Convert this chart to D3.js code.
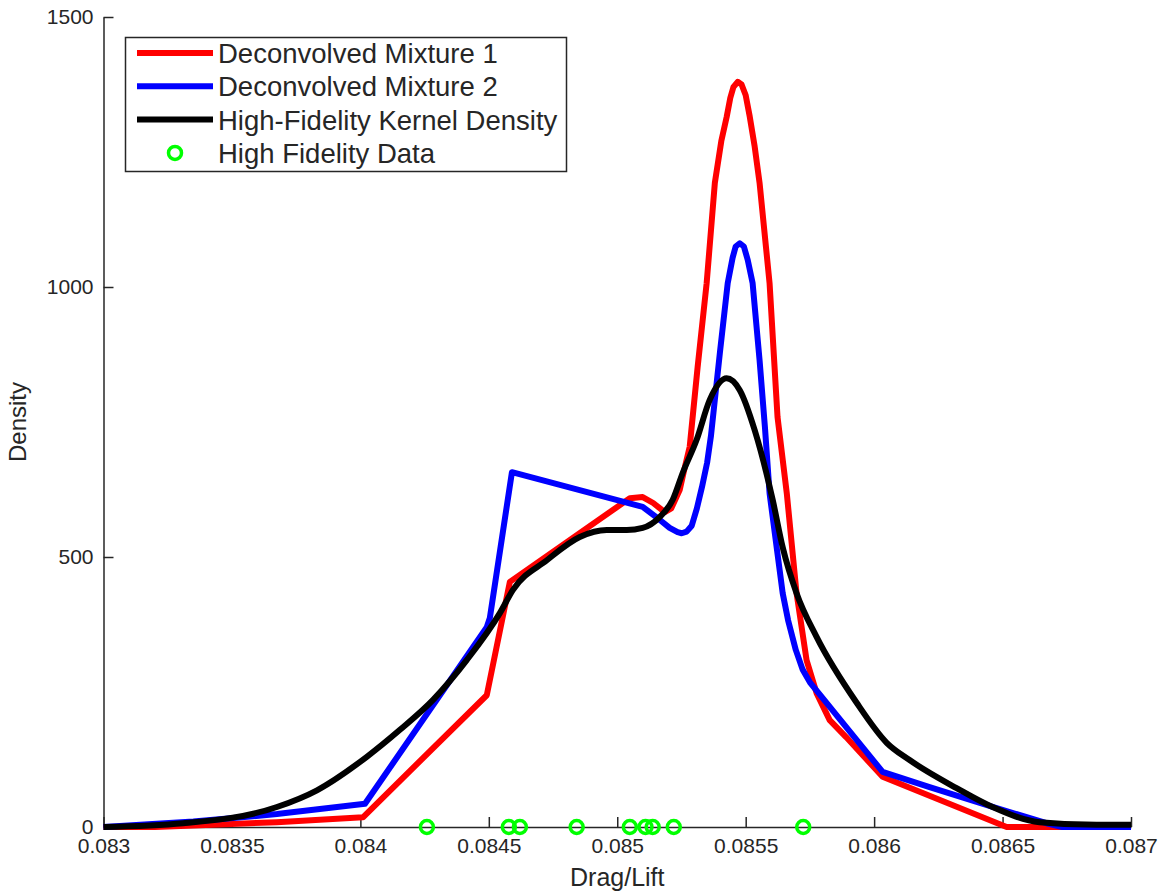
<!DOCTYPE html>
<html>
<head>
<meta charset="utf-8">
<script src="https://cdn.jsdelivr.net/npm/d3@7"></script>
<style>
    body { margin: 0; background: #fff; }
    text { font-family: "Liberation Sans", Arial, Helvetica, sans-serif; fill: #262626; }
</style>
</head>
<body>
<svg id="chart" width="1165" height="892"></svg>
<script>
// Deconvolved Mixture 1 (red)
const mix1X = [0.0830, 0.0832, 0.08335, 0.083675, 0.08401, 0.084492, 0.084582, 0.085049, 0.085099, 0.08514,
    0.085185, 0.08521, 0.085243, 0.08526, 0.085282, 0.085313, 0.085348, 0.08538, 0.085405, 0.085426,
    0.08544, 0.085452, 0.085469, 0.085484, 0.0855, 0.085516, 0.085535, 0.085554, 0.085593, 0.085624,
    0.08566, 0.085698, 0.085737, 0.085776, 0.085827, 0.08589, 0.086033, 0.086516, 0.087];
const mix1Y = [0, 0, 3, 9, 18, 244, 454, 609, 611, 600,
    583, 590, 624, 660, 704, 852, 1007, 1193, 1270, 1315,
    1350, 1370, 1380, 1375, 1355, 1315, 1260, 1193, 1007, 759,
    618, 433, 309, 248, 198, 167, 93, 0, 0];

// Deconvolved Mixture 2 (blue)
const mix2X = [0.0830, 0.08335, 0.083675, 0.084018, 0.084492, 0.084504, 0.08459, 0.085099, 0.085135, 0.085165,
    0.085204, 0.085235, 0.085251, 0.08527, 0.08529, 0.08531, 0.08533, 0.08535, 0.085365, 0.0854,
    0.08543, 0.085449, 0.085461, 0.085477, 0.085493, 0.085508, 0.085527, 0.085554, 0.085575, 0.085593,
    0.085644, 0.085665, 0.085695, 0.085722, 0.08575, 0.086033, 0.086216, 0.086477, 0.086671, 0.086733,
    0.087];
const mix2Y = [0, 10, 24, 43, 370, 387, 657, 593, 580, 569,
    554, 546, 544, 547, 558, 590, 630, 675, 725, 880,
    1007, 1054, 1075, 1081, 1075, 1050, 1007, 865, 740, 618,
    433, 383, 328, 291, 268, 102, 74, 35, 7, 0,
    0];

// High-Fidelity Kernel Density (black)
const kdeX = [0.0830, 0.08331, 0.083675, 0.083831, 0.084025, 0.084154, 0.084282, 0.084414, 0.084543, 0.084594,
    0.084726, 0.084854, 0.084959, 0.085037, 0.085099, 0.085165, 0.085216, 0.085255, 0.085309, 0.08536,
    0.085426, 0.085477, 0.085535, 0.085605, 0.085644, 0.085698, 0.085776, 0.085932, 0.086049, 0.086138,
    0.086321, 0.086461, 0.086644, 0.086866, 0.087];
const kdeY = [0, 7, 37, 68, 130, 180, 235, 309, 396, 439,
    494, 537, 550, 550, 554, 574, 606, 656, 717, 791,
    831, 809, 735, 606, 518, 433, 352, 230, 156, 124,
    72, 37, 9, 4, 4];

// High fidelity samples
const hfData = [0.084259, 0.084578, 0.084621, 0.084842, 0.085049, 0.08511, 0.085138, 0.08522, 0.085724];

const xTicks = [0.083, 0.0835, 0.084, 0.0845, 0.085, 0.0855, 0.086, 0.0865, 0.087];
const yTicks = [0, 500, 1000, 1500];

const legendNames = ["Deconvolved Mixture 1", "Deconvolved Mixture 2", "High-Fidelity Kernel Density", "High Fidelity Data"];
const lineColors = ["#ff0000", "#0000ff", "#000000"];

var svg = d3.select("#chart");
var plotLeft = 103.5, plotRight = 1131, plotTop = 17, plotBottom = 827;

var x = d3.scaleLinear().domain([0.083, 0.087]).range([plotLeft, plotRight]);
var y = d3.scaleLinear().domain([0, 1500]).range([plotBottom, plotTop]);

// axes (MATLAB style, box off, ticks inward)
var xAxis = svg.append("g")
    .attr("transform", "translate(0," + plotBottom + ")")
    .call(d3.axisBottom(x).tickValues(xTicks).tickFormat(d3.format("")).tickSizeInner(-10).tickSizeOuter(0).tickPadding(8));
var yAxis = svg.append("g")
    .attr("transform", "translate(" + plotLeft + ",0)")
    .call(d3.axisLeft(y).tickValues(yTicks).tickFormat(d3.format("d")).tickSizeInner(-10).tickSizeOuter(0).tickPadding(10));

[xAxis, yAxis].forEach(function(g) {
    g.selectAll("path, line").attr("stroke", "#262626").attr("stroke-width", 1.5);
    g.selectAll("text").style("font-size", "21px").attr("fill", "#262626");
});
xAxis.selectAll("text").attr("dy", "0.85em");

svg.append("text")
    .attr("x", (plotLeft + plotRight) / 2).attr("y", 886)
    .attr("text-anchor", "middle").style("font-size", "25px")
    .text("Drag/Lift");
svg.append("text")
    .attr("transform", "translate(26," + (plotTop + plotBottom) / 2 + ") rotate(-90)")
    .attr("text-anchor", "middle").style("font-size", "24px")
    .text("Density");

// curves: the mixtures are piecewise, the kernel density is smooth
var series = [[mix1X, mix1Y], [mix2X, mix2Y], [kdeX, kdeY]];
series.forEach(function(s, i) {
    var pts = s[0].map(function(v, j) { return [v, s[1][j]]; });
    var line = d3.line()
        .x(d => x(d[0]))
        .y(d => y(d[1]))
        .curve(i == 2 ? d3.curveMonotoneX : d3.curveLinear);
    svg.append("path")
        .datum(pts)
        .attr("d", line)
        .attr("fill", "none")
        .attr("stroke", lineColors[i])
        .attr("stroke-width", 6)
        .attr("stroke-linejoin", "round");
});

svg.selectAll("circle.hf")
    .data(hfData)
    .enter()
    .append("circle")
    .attr("class", "hf")
    .attr("cx", d => x(d))
    .attr("cy", y(0))
    .attr("r", 6.5)
    .attr("fill", "none")
    .attr("stroke", "#00ff00")
    .attr("stroke-width", 3.5);

// legend
var lg = svg.append("g");
lg.append("rect")
    .attr("x", 125.5).attr("y", 37.5).attr("width", 441).attr("height", 134)
    .attr("fill", "#fff").attr("stroke", "#262626").attr("stroke-width", 1.5);
legendNames.forEach(function(name, i) {
    var ry = 53 + i * 33.3;
    if (i < 3) {
        lg.append("line")
            .attr("x1", 137).attr("x2", 213).attr("y1", ry).attr("y2", ry)
            .attr("stroke", lineColors[i]).attr("stroke-width", 6);
    } else {
        lg.append("circle")
            .attr("cx", 175).attr("cy", ry).attr("r", 6.5)
            .attr("fill", "none").attr("stroke", "#00ff00").attr("stroke-width", 3.5);
    }
    lg.append("text")
        .attr("x", 218).attr("y", ry).attr("dy", "0.36em")
        .style("font-size", "27.5px").attr("fill", "#000")
        .text(name);
});
</script>
</body>
</html>
